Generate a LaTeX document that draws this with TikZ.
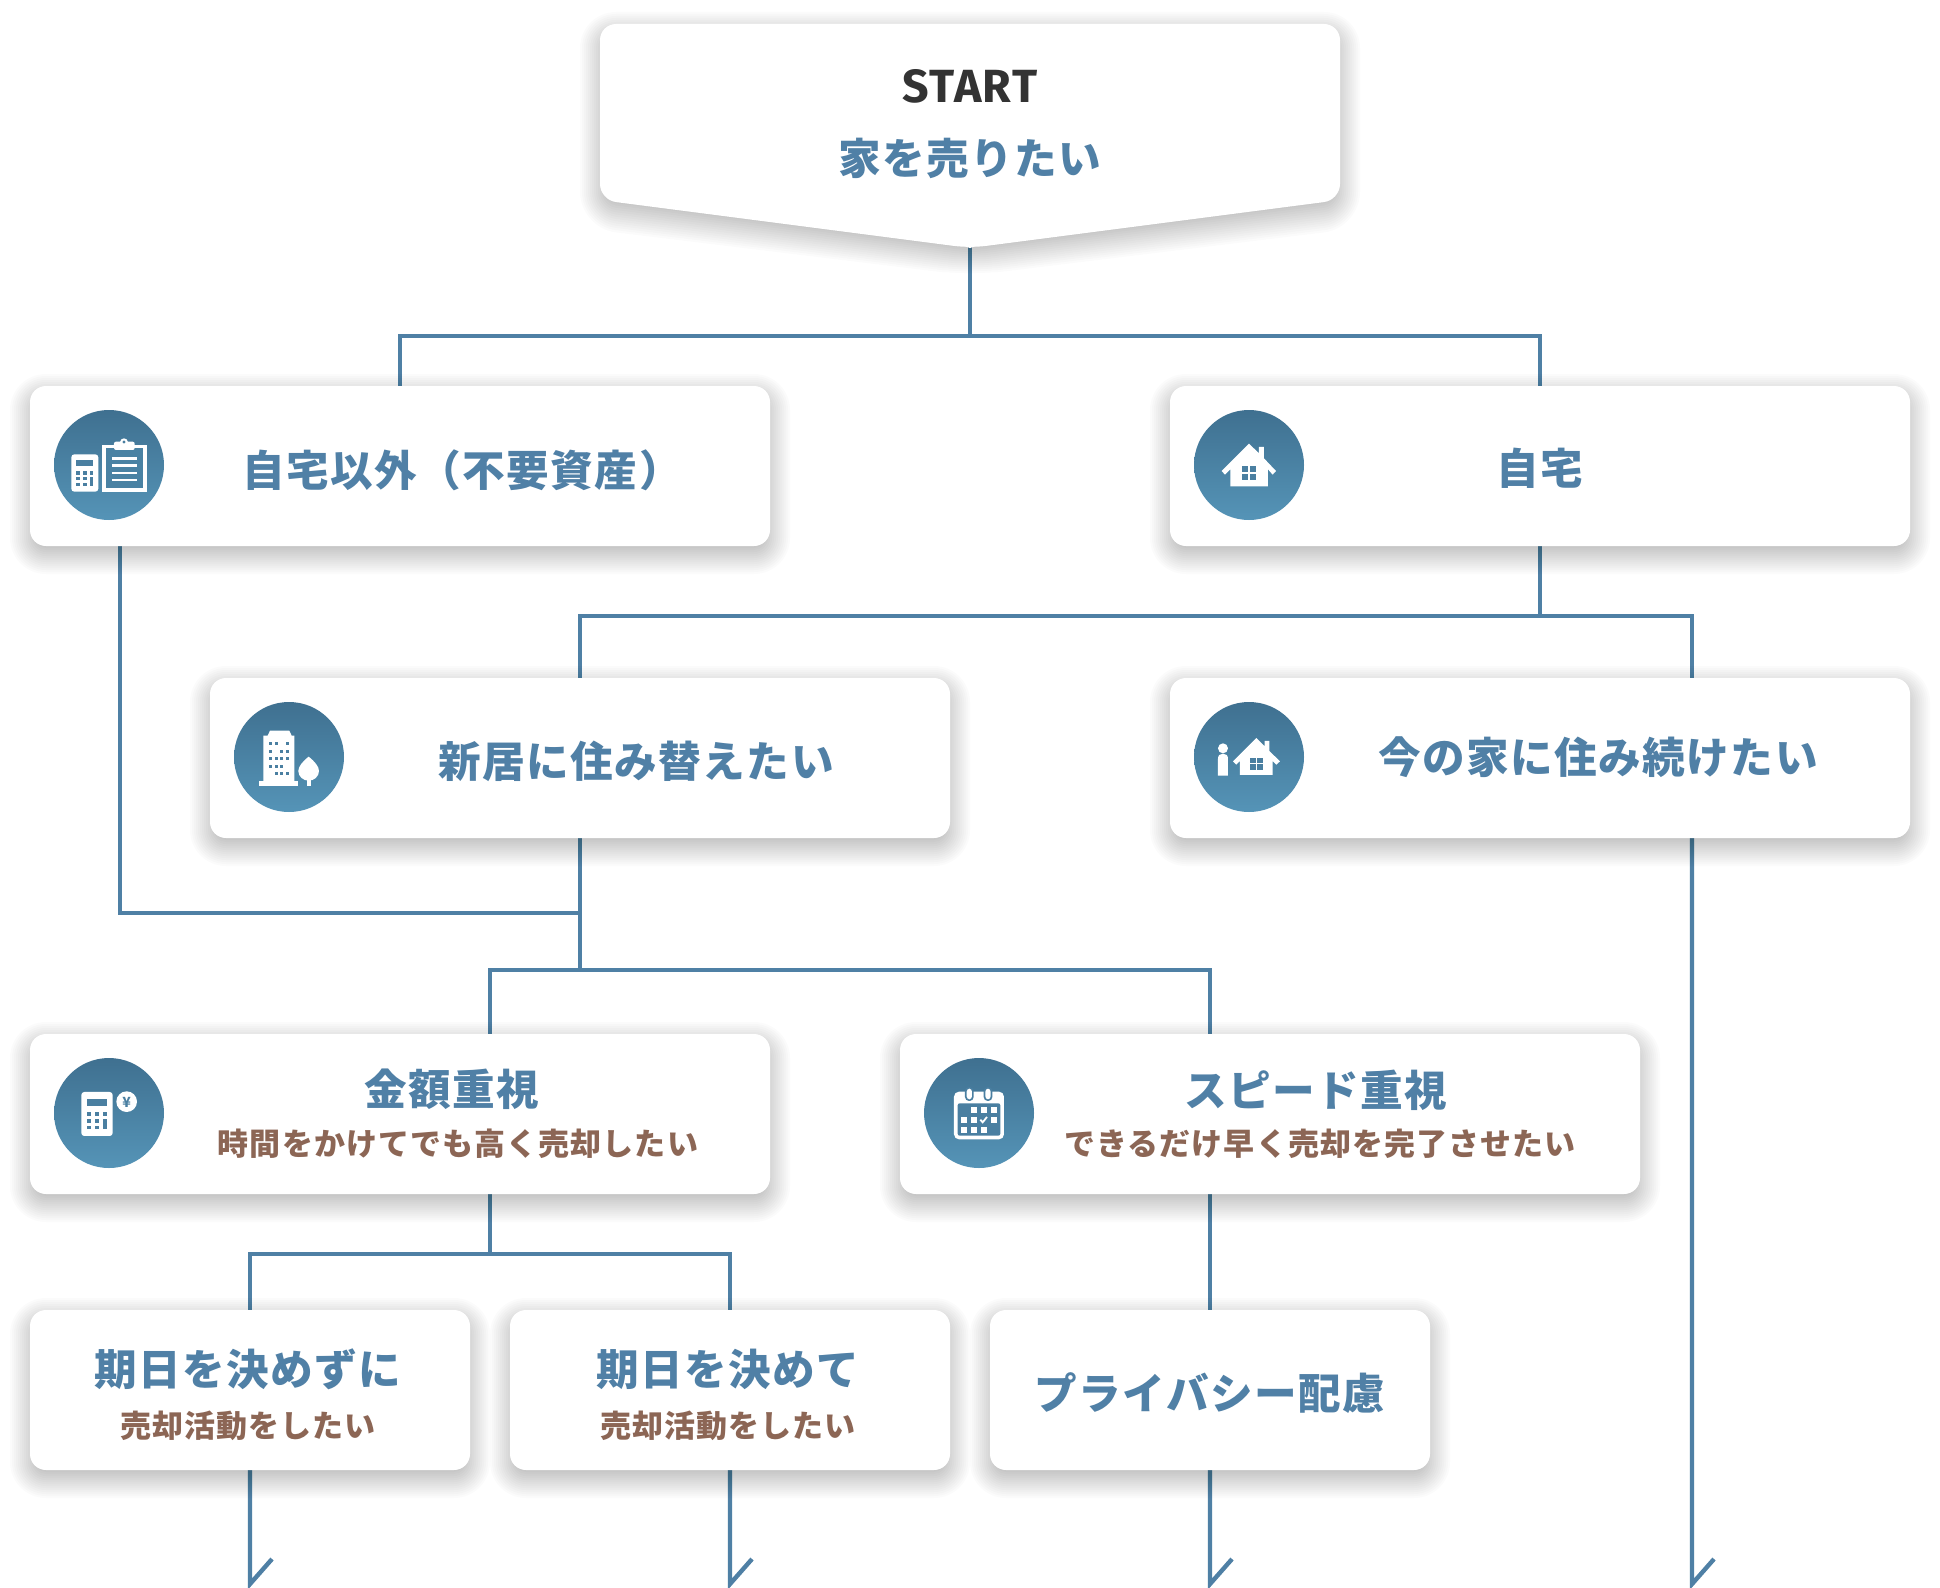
\documentclass[tikz,border=0pt]{standalone}
\usepackage{fontspec}
\setmainfont{Noto Sans CJK JP}
\newfontfamily\jpb{Noto Sans CJK JP}[LetterSpace=3.5]
\newfontfamily\latb{Fira Sans}[LetterSpace=3]
\usetikzlibrary{calc}
\definecolor{linec}{HTML}{4F80A5}
\definecolor{blue1}{HTML}{5080A6}
\definecolor{brown1}{HTML}{8C6655}
\definecolor{dark1}{HTML}{333333}
\definecolor{gtop}{HTML}{3F7090}
\definecolor{gbot}{HTML}{5594B7}
\definecolor{iconb}{HTML}{4A7FA1}
\pgfdeclarelayer{connl}
\pgfdeclarelayer{shadl}
\pgfsetlayers{connl,shadl,main}
\tikzset{
  cardbox/.style={rectangle,fill=white,rounded corners=16pt,inner sep=0pt,minimum height=160pt},
  conn/.style={draw=linec,line width=4.4pt,line join=miter},
  bigt/.style={inner sep=0pt,text=blue1,font=\jpb\bfseries\fontsize{42.6}{50}\selectfont},
  subt/.style={inner sep=0pt,text=brown1,font=\jpb\bfseries\fontsize{31}{37}\selectfont},
  iconc/.style={circle,minimum size=110pt,inner sep=0pt,top color=gtop,bottom color=gbot},
  zoomed/.style={x=.33333pt,y=-.33333pt,shift={#1}},
  iw/.style={fill=white,draw=none},
  ib/.style={fill=iconb,draw=none},
}
\newcommand\card[4]{%
  \node[cardbox,minimum width=#4 pt] (#1) at (#2,#3) {};
  \pgfmathsetmacro\xa{#2-#4/2}\pgfmathsetmacro\xb{#2+#4/2}%
  \pgfmathsetmacro\ya{#3-80+8}\pgfmathsetmacro\yb{#3+80+8}%
  \begin{pgfonlayer}{shadl}
  \foreach \e in {20,18,...,-14}{
    \pgfmathsetmacro\rr{max(1,16+\e)}
    \fill[black,opacity=.016,rounded corners=\rr pt] (\xa-\e,\ya-\e) rectangle (\xb+\e,\yb+\e);
  }
  \end{pgfonlayer}
}
\begin{document}
\begin{tikzpicture}[x=1pt,y=-1pt]
\useasboundingbox (0,0) rectangle (1940,1587);
\begin{pgfonlayer}{connl}
\fill[white] (0,0) rectangle (1940,1587);
\end{pgfonlayer}

% START pentagon
\begin{pgfonlayer}{shadl}
\foreach \e in {20,18,...,-14}{
  \pgfmathsetmacro\rr{max(1,16+\e)}
  \fill[black,opacity=.016,rounded corners=\rr pt]
    (600-\e,32-\e) -- (1340+\e,32-\e) -- (1340+\e,208+\e) -- (970,255+\e*1.03) -- (600-\e,208+\e) -- cycle;
}
\end{pgfonlayer}
\fill[white,rounded corners=16pt] (600,24) -- (1340,24) -- (1340,200) -- (970,248) -- (600,200) -- cycle;
\fill[white] (945,240) -- (970,248) -- (995,240) -- cycle;
\coordinate (tip) at (970,247);

\node[inner sep=0pt,text=dark1,font=\latb\bfseries\fontsize{46.5}{54}\selectfont] (tstart) at (970,86) {START};
\node[bigt] (tsell) at (970,158) {家を売りたい};

% Cards
\card{n1}{400}{466}{740}
\card{n2}{1540}{466}{740}
\card{n3}{580}{758}{740}
\card{n4}{1540}{758}{740}
\card{n5}{400}{1114}{740}
\card{n6}{1270}{1114}{740}
\card{n7}{250}{1390}{440}
\card{n8}{730}{1390}{440}
\card{n9}{1210}{1390}{440}

% Labels
\node[bigt] (t1) at (462,470) {自宅以外（不要資産）};
\node[bigt] (t2) at (1540,468) {自宅};
\node[bigt] (t3) at (636,761) {新居に住み替えたい};
\node[bigt] (t4) at (1598,757) {今の家に住み続けたい};
\node[bigt] (t5) at (452,1089) {金額重視};
\node[subt] (s5) at (458,1144) {時間をかけてでも高く売却したい};
\node[bigt] (t6) at (1316,1090) {スピード重視};
\node[subt] (s6) at (1320,1144) {できるだけ早く売却を完了させたい};
\node[bigt] (t7) at (248,1369) {期日を決めずに};
\node[subt] (s7) at (248,1426) {売却活動をしたい};
\node[bigt] (t8) at (728,1369) {期日を決めて};
\node[subt] (s8) at (728,1426) {売却活動をしたい};
\node[bigt] (t9) at (1210,1393) {プライバシー配慮};

% Connectors
\coordinate (j0) at (970,336);
\coordinate (j1) at (1540,616);
\coordinate (b4a) at (1692,678);
\coordinate (b4b) at (1692,838);
\coordinate (b1) at (120,546);
\coordinate (j2) at (580,970);
\coordinate (j3) at (580,913);
\coordinate (a5) at (490,1034);
\coordinate (b5) at (490,1194);
\coordinate (a6) at (1210,1034);
\coordinate (b6) at (1210,1194);
\coordinate (j4) at (490,1254);
\coordinate (t7e) at (250,1584);\coordinate (k7) at (272,1559);
\coordinate (t8e) at (730,1584);\coordinate (k8) at (752,1559);
\coordinate (t9e) at (1210,1584);\coordinate (k9) at (1232,1559);
\coordinate (t4e) at (1692,1584);\coordinate (k4) at (1714,1559);
\begin{pgfonlayer}{connl}
\draw[conn] (tip) -- (j0);
\draw[conn] (n1.north) |- (j0) -| (n2.north);
\draw[conn] (n2.south) -- (j1);
\draw[conn] (n3.north) |- (j1) -| (b4a);
\draw[conn] (n3.south) -- (j2);
\draw[conn] (b1) |- (j3);
\draw[conn] (a5) |- (j2) -| (a6);
\draw[conn] (b5) -- (j4);
\draw[conn] (n7.north) |- (j4) -| (n8.north);
\draw[conn] (b6) -- (n9.north);
\draw[conn] (n7.south) -- (t7e) -- (k7);
\draw[conn] (n8.south) -- (t8e) -- (k8);
\draw[conn] (n9.south) -- (t9e) -- (k9);
\draw[conn] (b4b) -- (t4e) -- (k4);
\end{pgfonlayer}

% Icon circles
\node[iconc] (c1) at (109,465) {};
\node[iconc] (c2) at (1249,465) {};
\node[iconc] (c3) at (289,757) {};
\node[iconc] (c4) at (1249,757) {};
\node[iconc] (c5) at (109,1113) {};
\node[iconc] (c6) at (979,1113) {};

% Icon 1: calculator + clipboard
\begin{scope}[zoomed={(0,1110)}]
\fill[iw,rounded corners=3pt] (214,253) rectangle (295,365);
\fill[ib] (228,270) rectangle (280,287);
\foreach \x/\w in {228/12,250/10}{\foreach \y/\h in {303/12,320/10,338/10}{\fill[ib] (\x,\y) rectangle ++(\w,\h);}}
\fill[ib] (270,303) rectangle (280,315);
\fill[ib] (270,320) rectangle (280,348);
\fill[iw] (307,225) rectangle (441,365);
\fill[gtop!50!gbot] (318,235) rectangle (430,355);
\fill[iw,rounded corners=2pt] (342,215) rectangle (404,240);
\fill[iw] (372,217) circle (12);
\fill[ib] (372,216) circle (5);
\foreach \y in {262,283,305,327}{\fill[iw] (335,\y) rectangle (412,\y+7);}
\end{scope}

% Icon 2: house
\begin{scope}[zoomed={(3480,1110)}]
\fill[iw] (267,221) -- (185,303) -- (195,314) -- (211,298) -- (211,349) -- (324,349) -- (324,298) -- (338,314) -- (348,303) -- (312,265) -- (312,231) -- (297,231) -- (297,250) -- cycle;
\foreach \x in {246,269}{\foreach \y in {288,311}{\fill[ib] (\x,\y) rectangle ++(19,19);}}
\end{scope}

% Icon 3: building + tree
\begin{scope}[zoomed={(600,2010)}]
\fill[iw] (190,335) -- (190,197) -- (203,197) -- (210,182) -- (268,182) -- (275,197) -- (283,197) -- (283,335) -- cycle;
\fill[iw] (177,332) rectangle (295,348);
\foreach \x/\y in {208/217,224/217,257/217,208/240,241/240,257/240,208/262,224/262,241/262,257/262,208/284,224/284,241/284,224/307,241/307,257/307}{\fill[ib] (\x,\y) rectangle ++(9,9);}
\fill[iw] (326,260) .. controls (345,275) and (357,290) .. (357,303) .. controls (357,320) and (342,332) .. (326,332) .. controls (310,332) and (295,320) .. (295,303) .. controls (295,290) and (307,275) .. (326,260) -- cycle;
\fill[iw] (320,328) rectangle (332,348);
\end{scope}

% Icon 4: person + house
\begin{scope}[zoomed={(3510,2010)}]
\fill[iw] (159,235) circle (15);
\fill[iw] (144,317) -- (144,266) .. controls (144,256) and (150,251) .. (159,251) .. controls (168,251) and (174,256) .. (174,266) -- (174,317) -- cycle;
\fill[iw] (259,204) -- (189,274) -- (199,284) -- (210,273) -- (210,315) -- (308,315) -- (308,273) -- (319,284) -- (330,274) -- (298,243) -- (298,213) -- (284,213) -- (284,229) -- cycle;
\foreach \x in {241,261}{\foreach \y in {263,283}{\fill[ib] (\x,\y) rectangle ++(17,17);}}
\end{scope}

% Icon 5: calculator + yen
\begin{scope}[zoomed={(60,3060)}]
\fill[iw,rounded corners=3pt] (184,216) rectangle (278,348);
\fill[ib] (201,237) rectangle (262,257);
\foreach \x in {201,226}{\foreach \y in {276,297,317}{\fill[ib] (\x,\y) rectangle ++(12,11);}}
\fill[ib] (250,276) rectangle (262,287);
\fill[ib] (250,297) rectangle (262,328);
\fill[iw] (320,245) circle (31);
\node[inner sep=0pt,text=iconb,font=\bfseries\fontsize{14}{16}\selectfont] (yen) at (320,246) {¥};
\end{scope}

% Icon 6: calendar
\begin{scope}[zoomed={(2700,3120)}]
\fill[iw,rounded corners=5pt] (162,155) rectangle (312,298);
\fill[ib,rounded corners=2pt] (173,190) rectangle (301,287);
\foreach \x in {208,264}{
  \fill[ib,rounded corners=4pt] (\x-13,141) rectangle (\x+13,183);
  \fill[iw,rounded corners=3pt] (\x-8,146) rectangle (\x+8,178);
}
\foreach \x/\y in {214/201,244/201,273/201,184/231,214/231,273/231,184/261,214/261,244/261}{\fill[iw] (\x,\y) rectangle ++(18,18);}
\draw[white,line width=1.8pt] (241,239) -- (248,247) -- (261,231);
\end{scope}
\end{tikzpicture}
\end{document}
